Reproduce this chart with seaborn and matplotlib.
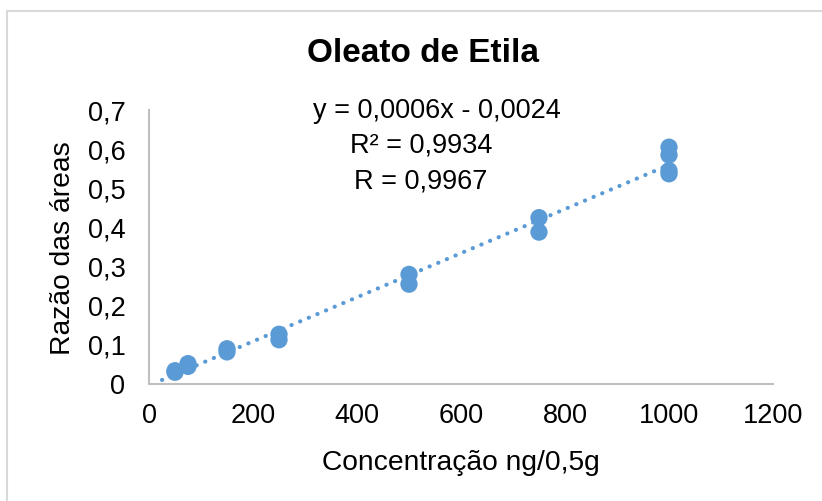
import numpy as np
import pandas as pd
import matplotlib
matplotlib.use("Agg")
import matplotlib.pyplot as plt
import seaborn as sns
from matplotlib.lines import Line2D

# Calibration data: concentration (ng/0,5g) vs. peak-area ratio
concentracao = [50, 50, 75, 75, 150, 150, 250, 250, 500, 500,
                750, 750, 1000, 1000, 1000, 1000]
razao_areas = [0.030, 0.034, 0.045, 0.052, 0.082, 0.090, 0.113, 0.127,
               0.255, 0.280, 0.388, 0.425, 0.537, 0.545, 0.585, 0.605]

x_ticks = [0, 200, 400, 600, 800, 1000, 1200]
y_ticks = [0, 0.1, 0.2, 0.3, 0.4, 0.5, 0.6, 0.7]
trend_x_range = [25, 1000]

titulo = "Oleato de Etila"
rotulo_x = "Concentração ng/0,5g"
rotulo_y = "Razão das áreas"
equacao = ["y = 0,0006x - 0,0024", "R² = 0,9934", "R = 0,9967"]

df = pd.DataFrame({"conc": concentracao, "razao": razao_areas})

sns.set_theme(style="white")
plt.rcParams["font.family"] = ["Liberation Sans", "DejaVu Sans"]

fig = plt.figure(figsize=(8.22, 5.01), dpi=100)
ax = fig.add_axes([149 / 822, 1 - 384 / 501, (773 - 149) / 822, (384 - 110) / 501])

blue = "#5B9BD5"

# linear trendline fitted to the calibration points
coef = np.polyfit(df["conc"], df["razao"], 1)
tx = np.array(trend_x_range, dtype=float)
ax.plot(tx, np.polyval(coef, tx), color=blue, lw=3.0,
        linestyle=(0, (0.05, 2.2)), dash_capstyle="round", zorder=2)

sns.scatterplot(data=df, x="conc", y="razao", ax=ax, color=blue, s=155,
                edgecolor="none", linewidth=0, zorder=3, legend=False)

ax.set_xlim(0, 1200)
ax.set_ylim(0, 0.7)
ax.set_xticks(x_ticks)
ax.set_yticks(y_ticks)
ax.set_xticklabels([str(v) for v in x_ticks])
ax.set_yticklabels(["0" if v == 0 else f"{v:.1f}".replace(".", ",") for v in y_ticks])
ax.tick_params(axis="both", length=0, labelsize=19.5, colors="black")
ax.tick_params(axis="x", pad=14)
ax.tick_params(axis="y", pad=17)

for side in ["top", "right"]:
    ax.spines[side].set_visible(False)
for side in ["left", "bottom"]:
    ax.spines[side].set_color("#BFBFBF")
    ax.spines[side].set_linewidth(1.5)

ax.set_xlabel("")
ax.set_ylabel("")
fig.text(461 / 822, 1 - 463 / 501, rotulo_x, ha="center", va="center",
         fontsize=20.3, color="black")
fig.text(63 / 822, 1 - 248 / 501, rotulo_y, ha="center", va="center",
         rotation=90, fontsize=20.3, color="black")
fig.text(423 / 822, 1 - 53 / 501, titulo, ha="center", va="center",
         fontsize=24, fontweight="bold", color="black")

eq_y = [111, 146, 181]
eq_x = [437, 421, 421]
for txt, ex, ey in zip(equacao, eq_x, eq_y):
    fig.text(ex / 822, 1 - ey / 501, txt, ha="center", va="center",
             fontsize=19.5, color="black")

# chart-area border (top and left edges)
fig.add_artist(Line2D([7 / 822, 1.0], [1 - 11 / 501, 1 - 11 / 501],
                      transform=fig.transFigure, color="#D9D9D9", lw=1.5))
fig.add_artist(Line2D([7 / 822, 7 / 822], [0.0, 1 - 11 / 501],
                      transform=fig.transFigure, color="#D9D9D9", lw=1.5))

fig.savefig("out.png", dpi=100)
